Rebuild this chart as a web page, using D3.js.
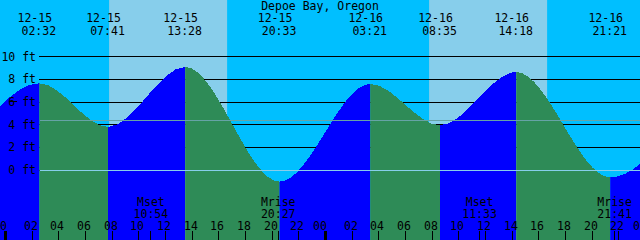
<!DOCTYPE html>
<html><head><meta charset="utf-8">
<script src="https://cdn.jsdelivr.net/npm/d3@7"></script>
<style>
html,body{margin:0;padding:0;background:#fff;}
svg{display:block;}
text{font-family:"DejaVu Sans Mono","Liberation Mono",monospace;font-size:11.5px;fill:#000;}
</style>
</head><body>
<svg id="c" width="640" height="240"></svg>
<script>
// ---- data ----
const title = "Depoe Bay, Oregon";
const viewStart = "12-14 23:35";
const viewEnd = "12-16 23:35";
const tideTimes = ["12-14 19:36","12-15 02:32","12-15 07:41","12-15 13:28","12-15 20:33","12-16 03:21","12-16 08:35","12-16 14:18","12-16 21:21","12-17 04:10"];
const tideHeights = [-1.3, 7.65, 3.8, 9.1, -1.03, 7.6, 3.95, 8.65, -0.65, 7.6];
const sunriseTimes = ["12-15 07:46","12-16 07:46"];
const sunsetTimes = ["12-15 16:37","12-16 16:37"];
const moonNames = ["Mset","Mrise","Mset","Mrise"];
const moonTimes = ["12-15 10:54","12-15 20:27","12-16 11:33","12-16 21:41"];
const depthTicks = [0, 2, 4, 6, 8, 10];
const depthLabels = ["0 ft","2 ft","4 ft","6 ft","8 ft","10 ft"];
const mslLevel = 4.38;

// ---- setup ----
const W = 640, H = 240;
const parse = d3.timeParse("%m-%d %H:%M");
const svg = d3.select("#c");
const x = d3.scaleTime().domain([parse(viewStart), parse(viewEnd)]).range([0, W]);
const y = d3.scaleLinear().domain([0, 10]).range([170, 56.67]);
const crisp = v => Math.floor(v) + 0.5;

const tides = tideTimes.map((t, i) => ({t: parse(t), h: tideHeights[i], label: t}));

// background: night then day bands
svg.append("rect").attr("x", 0).attr("y", 0).attr("width", W).attr("height", H).attr("fill", "#00BFFF");
svg.selectAll("rect.day").data(sunriseTimes).join("rect").attr("class", "day")
  .attr("x", d => x(parse(d)))
  .attr("y", 0)
  .attr("width", (d, i) => x(parse(sunsetTimes[i])) - x(parse(d)))
  .attr("height", H)
  .attr("fill", "#87CEEB");

// grid lines (behind tide)
svg.selectAll("line.grid").data(depthTicks).join("line").attr("class", "grid")
  .attr("x1", 39).attr("x2", W)
  .attr("y1", d => crisp(y(d))).attr("y2", d => crisp(y(d)))
  .attr("stroke", "#000").attr("stroke-width", 1);

// tide fills, one clipped copy per segment
const area = d3.area()
  .x(d => x(d.t))
  .y0(H)
  .y1(d => y(d.h))
  .curve(d3.curveMonotoneX);
const defs = svg.append("defs");
for (let i = 0; i < tides.length - 1; i++) {
  const a = tides[i], b = tides[i + 1];
  defs.append("clipPath").attr("id", "seg" + i)
    .append("rect")
    .attr("x", x(a.t)).attr("y", 0)
    .attr("width", x(b.t) - x(a.t)).attr("height", H);
  svg.append("path").datum(tides)
    .attr("d", area)
    .attr("clip-path", `url(#seg${i})`)
    .attr("fill", b.h > a.h ? "#0000FF" : "#2E8B57")
    .attr("shape-rendering", "crispEdges");
}

// mean sea level and datum lines (on top)
svg.append("line").attr("x1", 40).attr("x2", W)
  .attr("y1", crisp(y(mslLevel))).attr("y2", crisp(y(mslLevel)))
  .attr("stroke", "#66A3A6").attr("stroke-width", 1);
svg.append("line").attr("x1", 40).attr("x2", W)
  .attr("y1", crisp(y(0))).attr("y2", crisp(y(0)))
  .attr("stroke", "#87CEEB").attr("stroke-width", 1);

// depth labels
svg.selectAll("text.depth").data(depthTicks).join("text").attr("class", "depth")
  .attr("x", 36).attr("y", d => y(d) + 4)
  .attr("text-anchor", "end")
  .text((d, i) => depthLabels[i]);
svg.append("line").attr("x1", 9).attr("x2", 17).attr("y1", 101.5).attr("y2", 101.5)
  .attr("stroke", "#000").attr("stroke-width", 1);

// title
svg.append("text").attr("x", W / 2).attr("y", 10).attr("text-anchor", "middle").text(title);

// tide event labels at top
const shown = tides.filter(d => d.t >= x.domain()[0] && d.t <= x.domain()[1]);
const fmtDate = d3.timeFormat("%m-%d"), fmtTime = d3.timeFormat("%H:%M");
svg.selectAll("text.tdate").data(shown).join("text").attr("class", "tdate")
  .attr("x", d => x(d.t) - 4.5).attr("y", 22).attr("text-anchor", "middle")
  .text(d => fmtDate(d.t));
svg.selectAll("text.ttime").data(shown).join("text").attr("class", "ttime")
  .attr("x", d => x(d.t) - 0.5).attr("y", 35).attr("text-anchor", "middle")
  .text(d => fmtTime(d.t));

// moon events
const moons = moonTimes.map((t, i) => ({t: parse(t), name: moonNames[i]}));
svg.selectAll("text.mname").data(moons).join("text").attr("class", "mname")
  .attr("x", d => x(d.t)).attr("y", 206).attr("text-anchor", "middle")
  .text(d => d.name);
svg.selectAll("text.mtime").data(moons).join("text").attr("class", "mtime")
  .attr("x", d => x(d.t)).attr("y", 218).attr("text-anchor", "middle")
  .text(d => fmtTime(d.t));
svg.selectAll("line.mtick").data(moons).join("line").attr("class", "mtick")
  .attr("x1", d => crisp(x(d.t))).attr("x2", d => crisp(x(d.t)))
  .attr("y1", 231).attr("y2", H).attr("stroke", "#000");

// hour axis along the bottom
const hourTicks = d3.timeHour.every(2).range(x.domain()[0], d3.timeHour.offset(x.domain()[1], 1));
const axis = d3.axisTop(x).tickValues(hourTicks).tickSize(9).tickPadding(1)
  .tickFormat(d3.timeFormat("%H"));
const gx = svg.append("g").attr("transform", `translate(0,${H})`).call(axis);
gx.select(".domain").remove();
gx.selectAll("text").attr("font-family", null).attr("font-size", null)
  .attr("dx", d => d.getHours() === 0 ? -5.5 : -1.5);
gx.selectAll(".tick line").attr("stroke", "#000")
  .attr("stroke-width", d => d.getHours() === 0 ? 3 : 1);
gx.selectAll(".tick").attr("transform", d => `translate(${crisp(x(d))},0)`);
</script>
</body></html>
